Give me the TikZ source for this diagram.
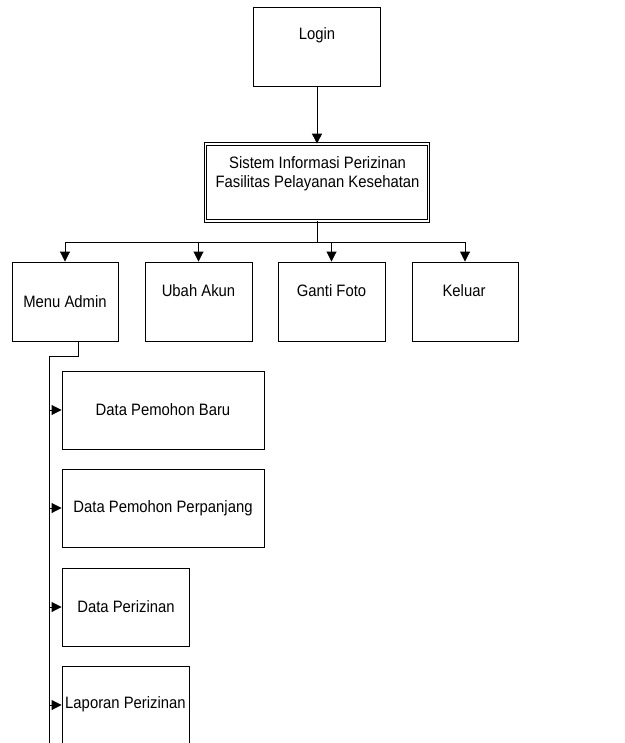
\documentclass[tikz,border=0pt]{standalone}
\usepackage{fontspec}
\setmainfont{Liberation Sans}[FakeStretch=0.9]
\usetikzlibrary{arrows.meta}
\begin{document}
\begin{tikzpicture}[x=1pt,y=-1pt,
  box/.style={draw,line width=0.9pt,rectangle,inner sep=0pt},
  dbox/.style={draw,double,double distance=1.8pt,line width=0.8pt,rectangle,inner sep=0pt},
  lbl/.style={font=\fontsize{16.5}{19}\selectfont,align=center,inner sep=0pt},
  line/.style={line width=0.9pt},
  arr/.style={line width=0.9pt,-{Triangle[length=10pt,width=10pt]}}]
\useasboundingbox (0,0) rectangle (624,743);
\clip (0,0) rectangle (624,743);

% top level
\node[box,minimum width=127pt,minimum height=79pt] (login) at (317,46.5) {};
\node[lbl] (tlogin) at (317,35) {Login};
\node[dbox,minimum width=223pt,minimum height=77pt] (sys) at (317,182.5) {};
\node[lbl] (tsys) at (317.5,173.5) {Sistem Informasi Perizinan\\Fasilitas Pelayanan Kesehatan};
\draw[arr] (login.south) -- (sys.north);

% main menu
\node[box,minimum width=106pt,minimum height=79pt] (admin) at (65,301.5) {};
\node[box,minimum width=107pt,minimum height=79pt] (ubah) at (198.5,301.5) {};
\node[box,minimum width=107pt,minimum height=79pt] (ganti) at (331.5,301.5) {};
\node[box,minimum width=106pt,minimum height=79pt] (keluar) at (465,301.5) {};
\node[lbl] (tadmin) at (65,302) {Menu Admin};
\node[lbl] (tubah) at (198.5,291) {Ubah Akun};
\node[lbl] (tganti) at (331.5,291) {Ganti Foto};
\node[lbl] (tkeluar) at (464,291) {Keluar};

\coordinate (hub) at (317,242);
\draw[line] (sys.south) -- (hub);
\draw[line] (admin.north |- hub) -- (keluar.north |- hub);
\foreach \n in {admin,ubah,ganti,keluar}
  \draw[arr] (\n.north |- hub) -- (\n.north);

% admin submenu
\node[box,minimum width=202pt,minimum height=78pt] (b1) at (163,410) {};
\node[box,minimum width=202pt,minimum height=78pt] (b2) at (163,508) {};
\node[box,minimum width=127pt,minimum height=78pt] (b3) at (125.5,607) {};
\node[box,minimum width=127pt,minimum height=78pt] (b4) at (125.5,705) {};
\node[lbl] (t1) at (163,410) {Data Pemohon Baru};
\node[lbl] (t2) at (163,508) {Data Pemohon Perpanjang};
\node[lbl] (t3) at (126,607) {Data Perizinan};
\node[lbl] (t4) at (125.5,704) {Laporan Perizinan};

\coordinate (adm) at (78,341);
\coordinate (bend) at (78,356);
\coordinate (trunk) at (49,356);
\coordinate (trunkend) at (49,750);
\draw[line] (adm) -- (bend) -- (trunk) -- (trunkend);
\foreach \n in {b1,b2,b3,b4}
  \draw[arr] (trunk |- \n.west) -- (\n.west);
\end{tikzpicture}
\end{document}
